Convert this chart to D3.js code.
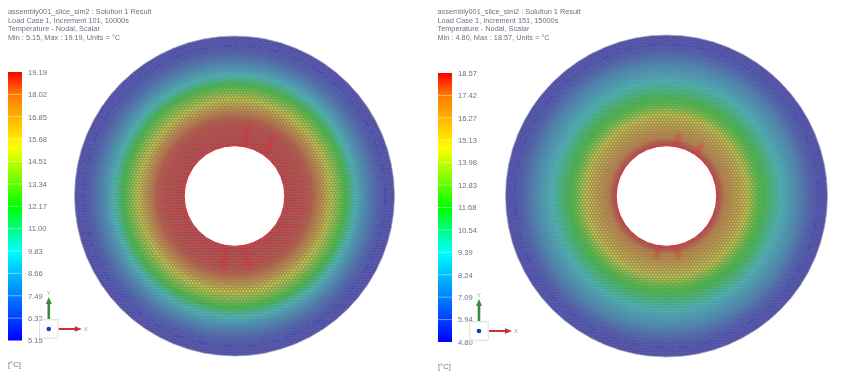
<!DOCTYPE html>
<html>
<head>
<meta charset="utf-8">
<script src="https://cdn.jsdelivr.net/npm/d3@7"></script>
<style>
  html, body { margin: 0; background: #fff; }
  svg { filter: blur(0.3px); }
  text { font-family: "Liberation Sans", Arial, sans-serif; font-size: 7.6px; fill: #6d7280; }
  text.head { font-size: 7.35px; }
</style>
</head>
<body>
<div id="chart"></div>
<script>
// header lines of both result panels
const headerLeft = ["assembly001_slice_sim2 : Solution 1 Result", "Load Case 1, Increment 101, 10000s", "Temperature - Nodal, Scalar", "Min : 5.15, Max : 19.19, Units = °C"];
const headerRight = ["assembly001_slice_sim2 : Solution 1 Result", "Load Case 1, Increment 151, 15000s", "Temperature - Nodal, Scalar", "Min : 4.80, Max : 18.57, Units = °C"];

// colour bar labels, top to bottom
const ticksLeft = ["19.19", "18.02", "16.85", "15.68", "14.51", "13.34", "12.17", "11.00", "9.83", "8.66", "7.49", "6.32", "5.15"];
const ticksRight = ["18.57", "17.42", "16.27", "15.13", "13.98", "12.83", "11.68", "10.54", "9.39", "8.24", "7.09", "5.94", "4.80"];

// temperature against radius
const radiusLeft = [50, 70, 78, 85, 96, 111, 121, 134, 144, 150, 160];
const tempLeft = [19.19, 19.0, 18.7, 17.8, 15.3, 12.2, 9.9, 7.6, 5.9, 5.4, 5.15];
const radiusRight = [50, 54, 59, 79, 91, 113, 133, 146, 152, 161];
const tempRight = [18.57, 18.1, 17.2, 15.1, 12.4, 9.6, 7.4, 5.4, 5.0, 4.8];

const width = 841, height = 377;

const svg = d3.select("#chart")
  .append("svg")
    .attr("width", width)
    .attr("height", height)
    .style("display", "block");

const defs = svg.append("defs");

defs.append("filter")
    .attr("id", "soft")
  .append("feGaussianBlur")
    .attr("stdDeviation", 1.2);

// rainbow used by the solver legend, t = 0 is min and t = 1 is max
const rainbow = d3.scaleLinear()
  .domain([0, 0.333, 0.5, 0.72, 0.917, 1])
  .range(["#0000ff", "#00ffff", "#00ff00", "#ffff00", "#ff7a00", "#ff0000"]);

// mesh lines dull everything toward grey
const meshGrey = d3.interpolateRgb.gamma(1);
const dull = c => meshGrey(c, "#7a7a80")(0.74);

// cold cells hardly stand out from the mesh, hot ones do
const cellOpacity = d3.scaleLinear().domain([0, 0.3, 0.6, 1]).range([0.2, 0.4, 0.6, 0.55]);

function drawPanel(o) {
  const min = +o.ticks[o.ticks.length - 1], max = +o.ticks[0];
  const g = svg.append("g");

  // header
  g.selectAll(".head")
    .data(o.header)
    .join("text")
      .attr("class", "head")
      .attr("x", o.textX)
      .attr("y", (d, i) => 14.4 + i * 8.45)
      .text(d => d);

  // colour bar
  const barId = "bar" + o.id;
  const barGrad = defs.append("linearGradient")
      .attr("id", barId)
      .attr("x1", 0).attr("x2", 0).attr("y1", 1).attr("y2", 0);
  barGrad.selectAll("stop")
    .data(d3.range(0, 1.001, 0.02))
    .join("stop")
      .attr("offset", d => d)
      .attr("stop-color", d => rainbow(d));

  const yBar = d3.scalePoint()
    .domain(o.ticks)
    .range([o.barTop, o.barBottom]);

  g.append("rect")
      .attr("x", o.barX)
      .attr("y", o.barTop)
      .attr("width", 14)
      .attr("height", o.barBottom - o.barTop)
      .attr("fill", `url(#${barId})`);

  g.selectAll(".sep")
    .data(o.ticks.slice(1, -1))
    .join("line")
      .attr("x1", o.barX).attr("x2", o.barX + 14)
      .attr("y1", d => yBar(d)).attr("y2", d => yBar(d))
      .attr("stroke", "#fff")
      .attr("stroke-opacity", 0.55)
      .attr("stroke-width", 0.8);

  g.selectAll(".tick")
    .data(o.ticks)
    .join("text")
      .attr("x", o.barX + 20)
      .attr("y", d => yBar(d) + 2.8)
      .text(d => d);

  g.append("text")
      .attr("x", o.barX)
      .attr("y", o.unitY)
      .text("[°C]");

  // disc, coloured from the radial temperature profile
  const inner = o.radius[0], outer = o.radius[o.radius.length - 1];
  const tempAt = d3.scaleLinear().domain(o.radius).range(o.temp).clamp(true);
  const tAt = r => (tempAt(r) - min) / (max - min);
  const colorAt = r => rainbow(tAt(r));

  const discId = "disc" + o.id;
  const discGrad = defs.append("radialGradient")
      .attr("id", discId)
      .attr("gradientUnits", "userSpaceOnUse")
      .attr("cx", 0).attr("cy", 0).attr("r", outer);
  discGrad.selectAll("stop")
    .data(d3.range(0, 1.0001, 0.01))
    .join("stop")
      .attr("offset", d => d)
      .attr("stop-color", d => dull(colorAt(d * outer)));

  const disc = g.append("g").attr("transform", `translate(${o.cx},${o.cy})`);

  disc.append("path")
      .attr("d", d3.arc().innerRadius(inner).outerRadius(outer).startAngle(0).endAngle(2 * Math.PI)())
      .attr("fill", `url(#${discId})`);

  // mesh cells: staggered rows of a hex lattice, each cell shows through in its own colour
  const colStep = 3.07, rowStep = colStep * Math.sqrt(3) / 2;
  const cells = d3.range(-outer, outer, rowStep).flatMap((y, i) =>
    d3.range(-outer, outer, colStep).map(x => {
      const px = x + (i % 2) * colStep / 2;
      return {x: px, y: y, r: Math.hypot(px, y)};
    })
  ).filter(d => d.r > inner + 0.8 && d.r < outer - 0.6);

  disc.append("g")
    .selectAll("circle")
    .data(cells)
    .join("circle")
      .attr("cx", d => d.x)
      .attr("cy", d => d.y)
      .attr("r", 0.9)
      .attr("fill", d => colorAt(d.r))
      .attr("fill-opacity", d => cellOpacity(tAt(d.r)));

  // refined mesh boundary shows up as a broken dark blue ring
  disc.append("circle")
      .attr("r", outer - 9.5)
      .attr("fill", "none")
      .attr("stroke", "#2c34c8")
      .attr("stroke-opacity", 0.5)
      .attr("stroke-width", 1)
      .attr("stroke-dasharray", "9 5 3 7");

  // red rim of the hole
  disc.append("circle")
      .attr("r", inner + 0.3)
      .attr("fill", "#fff")
      .attr("stroke", "#d8282c")
      .attr("stroke-width", 1);

  // hot mesh spokes above and below the hole
  const spokes = [0.2, 0.6, 2.95, 3.3];
  disc.selectAll(".spoke")
    .data(spokes)
    .join("path")
      .attr("d", d3.arc()
        .innerRadius(inner + 1)
        .outerRadius(inner + o.spokeLength)
        .startAngle(d => d - 0.04)
        .endAngle(d => d + 0.04))
      .attr("fill", "#e8242c")
      .attr("fill-opacity", 0.3)
      .attr("filter", "url(#soft)");

  disc.append("circle")
      .attr("r", outer)
      .attr("fill", "none")
      .attr("stroke", "#a6a6c0")
      .attr("stroke-width", 0.7);

  // axis triad
  const tx = o.triadX, ty = o.triadY;
  g.append("rect")
      .attr("x", tx - 9.2).attr("y", ty - 9.2)
      .attr("width", 18.4).attr("height", 18.4)
      .attr("fill", "none")
      .attr("stroke", "#dcdcdc");
  g.append("circle")
      .attr("cx", tx).attr("cy", ty).attr("r", 2.3)
      .attr("fill", "#0a3fc8");
  g.append("path")
      .attr("d", `M${tx - 1.3},${ty - 10}V${ty - 25}H${tx - 3}L${tx},${ty - 32}L${tx + 3},${ty - 25}H${tx + 1.3}V${ty - 10}Z`)
      .attr("fill", "#3c8c3c");
  g.append("path")
      .attr("d", `M${tx + 10},${ty - 1}H${tx + 26}V${ty - 2.8}L${tx + 33},${ty}L${tx + 26},${ty + 2.8}V${ty + 1}H${tx + 10}Z`)
      .attr("fill", "#c83232");
  g.append("text")
      .attr("x", tx).attr("y", ty - 34)
      .attr("text-anchor", "middle")
      .style("fill", "#8fb08f")
      .style("font-size", "6px")
      .text("Y");
  g.append("text")
      .attr("x", tx + 35).attr("y", ty + 2)
      .style("fill", "#d88a8a")
      .style("font-size", "6px")
      .text("X");
}

drawPanel({id: "L", header: headerLeft, ticks: ticksLeft, radius: radiusLeft, temp: tempLeft,
  textX: 8, barX: 8, barTop: 72, barBottom: 340.5, unitY: 367, spokeLength: 24,
  cx: 234.5, cy: 196, triadX: 48.8, triadY: 329});
drawPanel({id: "R", header: headerRight, ticks: ticksRight, radius: radiusRight, temp: tempRight,
  textX: 437.5, barX: 438, barTop: 73, barBottom: 342, unitY: 369, spokeLength: 14,
  cx: 666.5, cy: 196, triadX: 479, triadY: 331});
</script>
</body>
</html>
